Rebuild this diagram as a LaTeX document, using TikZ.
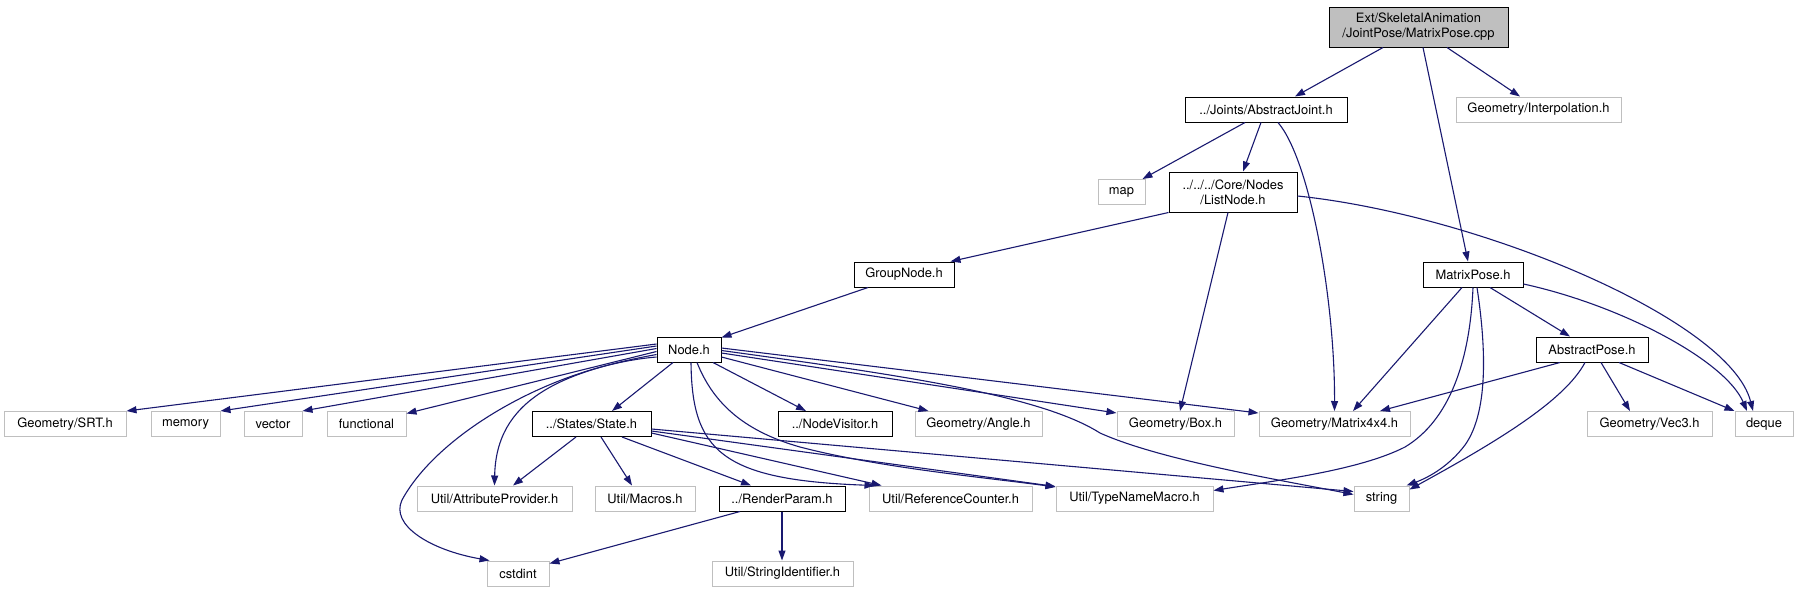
\documentclass[tikz,border=0pt]{standalone}
\usepackage{fontspec}
\setmainfont{TeX Gyre Heros}
\usetikzlibrary{arrows.meta}
\definecolor{edgeblue}{HTML}{191970}
\definecolor{extgray}{HTML}{BFBFBF}
\definecolor{rootgray}{HTML}{BFBFBF}
\newcommand\nodefont{\fontsize{12.9}{15}\selectfont}
\tikzset{
  base/.style={rectangle, inner sep=0pt, minimum height=25pt, font=\nodefont, text=black, line width=1pt},
  doc/.style={base, draw=black},
  ext/.style={base, draw=extgray},
  e/.style={draw=edgeblue, line width=1.1pt, -{Triangle[length=10pt,width=7pt]}},
}
\begin{document}
\begin{tikzpicture}[x=1pt,y=-1pt]
\fill[white] (0,0) rectangle (1797,592);
\useasboundingbox (0,0) rectangle (1797,592);
% rank 0
\node[doc, fill=rootgray, minimum width=179pt, minimum height=40pt, align=center] (root) at (1418.5,27) {Ext/SkeletalAnimation\\/JointPose/MatrixPose.cpp};
% rank 1
\node[doc, minimum width=162pt] (aj) at (1266,109.5) {../Joints/AbstractJoint.h};
\node[ext, minimum width=165pt] (interp) at (1538.5,109.5) {Geometry/Interpolation.h};
% rank 2
\node[ext, minimum width=47pt] (map) at (1121.5,192) {map};
\node[doc, minimum width=128pt, minimum height=40pt, align=center] (ln) at (1233,192) {../../../Core/Nodes\\/ListNode.h};
% rank 3
\node[doc, minimum width=100pt] (gn) at (904,274.5) {GroupNode.h};
\node[doc, minimum width=100pt] (mph) at (1473,274.5) {MatrixPose.h};
% rank 4
\node[doc, minimum width=64pt] (node) at (689,349.5) {Node.h};
\node[doc, minimum width=112pt] (ap) at (1592,349.5) {AbstractPose.h};
% rank 5
\node[ext, minimum width=122pt] (srt) at (65,424) {Geometry/SRT.h};
\node[ext, minimum width=69pt] (memory) at (185.5,424) {memory};
\node[ext, minimum width=58pt] (vector) at (273,424) {vector};
\node[ext, minimum width=79pt] (functional) at (366.5,424) {functional};
\node[doc, minimum width=119pt] (state) at (591.5,424) {../States/State.h};
\node[doc, minimum width=114pt] (nv) at (835,424) {../NodeVisitor.h};
\node[ext, minimum width=127pt] (angle) at (978.5,424) {Geometry/Angle.h};
\node[ext, minimum width=117pt] (box) at (1175.5,424) {Geometry/Box.h};
\node[ext, minimum width=151pt] (m44) at (1334.5,424) {Geometry/Matrix4x4.h};
\node[ext, minimum width=125pt] (vec3) at (1649.5,424) {Geometry/Vec3.h};
\node[ext, minimum width=58pt] (deque) at (1764,424) {deque};
% rank 6
\node[ext, minimum width=155pt] (attr) at (494.5,498.5) {Util/AttributeProvider.h};
\node[ext, minimum width=100pt] (macros) at (645,498.5) {Util/Macros.h};
\node[doc, minimum width=126pt] (rp) at (782,498.5) {../RenderParam.h};
\node[ext, minimum width=163pt] (refc) at (950.5,498.5) {Util/ReferenceCounter.h};
\node[ext, minimum width=157pt] (tnm) at (1134.5,498.5) {Util/TypeNameMacro.h};
\node[ext, minimum width=55pt] (string) at (1381.5,498.5) {string};
% rank 7
\node[ext, minimum width=62pt] (cstdint) at (518,573.5) {cstdint};
\node[ext, minimum width=141pt] (sid) at (782.5,573.5) {Util/StringIdentifier.h};
% edges from root
\draw[e] ([xshift=-35.5pt]root.south) -- ([xshift=29pt]aj.north);
\draw[e] ([xshift=28.5pt]root.south) -- ([xshift=-18.5pt]interp.north);
\draw[e] ([xshift=4.5pt]root.south) -- ([xshift=-5pt]mph.north);
% AbstractJoint
\draw[e] ([xshift=-21pt]aj.south) -- ([xshift=-3pt]map.north east);
\draw[e] ([xshift=-5pt]aj.south) -- ([xshift=10pt]ln.north);
\draw[e] ([xshift=12pt]aj.south) .. controls (1310,160) and (1335,300) .. (m44.north);
% ListNode
\draw[e] (ln.south west) -- ([xshift=-4pt]gn.north east);
\draw[e] ([xshift=-5pt]ln.south) -- ([xshift=4.5pt]box.north);
\draw[e] ([yshift=-4pt]ln.east) .. controls (1480,215) and (1730,320) .. ([xshift=-11pt]deque.north);
% GroupNode
\draw[e] ([xshift=-36pt]gn.south) -- ([yshift=-1pt]node.north east);
% MatrixPose.h
\draw[e] ([xshift=-11pt]mph.south) -- ([xshift=18.5pt]m44.north);
\draw[e] (mph.south) .. controls (1470,360) and (1450,420) .. (1405,447) .. controls (1360,470) and (1280,480) .. ([yshift=8pt]tnm.east);
\draw[e] ([xshift=4pt]mph.south) .. controls (1485,340) and (1490,410) .. (1465,445) .. controls (1450,465) and (1430,477) .. ([xshift=-3pt]string.north east);
\draw[e] ([xshift=17pt]mph.south) -- ([xshift=-22pt]ap.north);
\draw[e] ([yshift=-9.5pt]mph.east) .. controls (1620,305) and (1725,360) .. ([xshift=-17pt]deque.north);
% AbstractPose
\draw[e] ([xshift=-32pt]ap.south) -- ([xshift=45.5pt]m44.north);
\draw[e] ([xshift=-7pt]ap.south) .. controls (1565,400) and (1500,440) .. ([yshift=9pt]string.east);
\draw[e] ([xshift=9pt]ap.south) -- ([xshift=-19.5pt]vec3.north);
\draw[e] ([xshift=27pt]ap.south) -- (deque.north west);
% Node.h
\draw[e] ([yshift=5.5pt]node.west) -- (srt.north east);
\draw[e] ([yshift=3.5pt]node.west) -- (memory.north east);
\draw[e] ([yshift=1pt]node.west) -- (vector.north east);
\draw[e] ([yshift=-2pt]node.west) -- ([yshift=-2.5pt]functional.north east);
\draw[e] ([yshift=-5pt]node.west) .. controls (560,372) and (496,400) .. (attr.north);
\draw[e] ([yshift=-7.5pt]node.west) .. controls (560,365) and (440,430) .. (402,500) .. controls (390,525) and (430,550) .. ([xshift=3pt]cstdint.north west);
\draw[e] ([xshift=-16pt]node.south) -- ([xshift=20.5pt]state.north);
\draw[e] ([xshift=24pt]node.south) -- ([xshift=-29pt]nv.north);
\draw[e] ([yshift=-7.5pt]node.east) -- ([xshift=14pt]angle.north west);
\draw[e] ([yshift=-3.5pt]node.east) -- ([yshift=-2pt]box.north west);
\draw[e] ([yshift=1.5pt]node.east) -- ([yshift=-2pt]m44.north west);
\draw[e] ([yshift=-1pt]node.east) .. controls (900,375) and (1040,395) .. (1100,433) .. controls (1160,460) and (1280,480) .. ([yshift=4pt]string.west);
\draw[e] ([xshift=2pt]node.south) .. controls (692,450) and (720,480) .. ([xshift=6pt]refc.north west);
\draw[e] ([xshift=8pt]node.south) .. controls (712,400) and (740,430) .. (800,447) .. controls (880,468) and (990,478) .. ([yshift=-1.5pt]tnm.north west);
% State.h
\draw[e] ([xshift=-15.5pt]state.south) -- ([xshift=18.5pt]attr.north);
\draw[e] ([xshift=9.5pt]state.south) -- ([xshift=-13pt]macros.north);
\draw[e] ([xshift=30.5pt]state.south) -- ([xshift=-31pt]rp.north);
\draw[e] ([yshift=-9pt]state.east) -- ([xshift=13pt]refc.north west);
\draw[e] ([yshift=-7pt]state.east) -- ([yshift=-1pt]tnm.north west);
\draw[e] ([yshift=-5pt]state.east) -- ([yshift=7pt]string.west);
% RenderParam
\draw[e] ([xshift=-42pt]rp.south) -- ([yshift=-3pt]cstdint.north east);
\draw[e] (rp.south) -- (rp.south |- sid.north);
\end{tikzpicture}
\end{document}
